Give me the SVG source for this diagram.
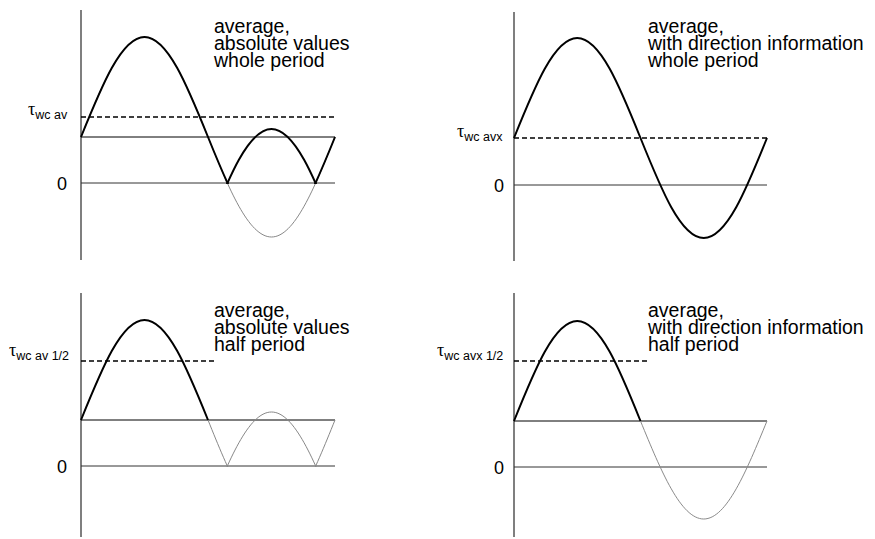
<svg xmlns="http://www.w3.org/2000/svg" xmlns:xlink="http://www.w3.org/1999/xlink" width="875" height="539" viewBox="0 0 875 539">
<style>
.ax{stroke:#555;stroke-width:1.5;fill:none}
.ln{stroke:#000;stroke-width:1;fill:none}
.zl{stroke:#333;stroke-width:1;fill:none}
.dash{stroke:#000;stroke-width:1.5;stroke-dasharray:5,3;fill:none}
.thick{stroke:#000;stroke-width:2;fill:none}
.thin{stroke:#888;stroke-width:1;fill:none}
.lbl{font-family:"Liberation Sans",Arial,sans-serif;font-size:19.5px;fill:#000}
.zero{font-family:"Liberation Sans",Arial,sans-serif;font-size:18px;fill:#000}
.tau{font-family:"Liberation Serif","Times New Roman",serif;font-size:18px;fill:#000}
.sub{font-family:"Liberation Sans",Arial,sans-serif;font-size:12.5px}
</style>
<defs>
<path id="sine" d="M0,0 C20.71,-51.23 40.52,-100 63.5,-100 C86.48,-100 106.29,-51.23 127,0 C147.71,51.23 167.52,100 190.5,100 C213.48,100 233.29,51.23 254,0"/>
<path id="half" d="M0,0 C20.71,-51.23 40.52,-100 63.5,-100 C86.48,-100 106.29,-51.23 127,0"/>
<clipPath id="c1"><rect x="0" y="0" width="875" height="184"/></clipPath>
<clipPath id="c3"><rect x="208" y="280" width="200" height="187"/></clipPath>
<clipPath id="c4"><rect x="640" y="280" width="200" height="259"/></clipPath>
</defs>

<g id="panel1">
<line class="ax" x1="81" y1="10" x2="81" y2="260"/>
<line class="zl" x1="81" y1="183" x2="335" y2="183"/>
<line class="ln" x1="81" y1="137" x2="335" y2="137"/>
<line class="dash" x1="81" y1="117" x2="335" y2="117"/>
<use xlink:href="#sine" class="thin" transform="translate(81,137)"/>
<g clip-path="url(#c1)">
<use xlink:href="#sine" class="thick" transform="translate(81,137)"/>
<use xlink:href="#sine" class="thick" transform="translate(81,229) scale(1,-1)"/>
</g>
<text class="zero" x="57" y="190">0</text>
<text class="tau" x="28" y="115">τ<tspan class="sub" dy="4">wc av</tspan></text>
<text class="lbl"><tspan x="214" y="33">average,</tspan><tspan x="214" y="50">absolute values</tspan><tspan x="214" y="67">whole period</tspan></text>
</g>

<g id="panel2">
<line class="ax" x1="514" y1="12" x2="514" y2="261"/>
<line class="zl" x1="514" y1="185" x2="767" y2="185"/>
<line class="dash" x1="514" y1="138" x2="767" y2="138"/>
<use xlink:href="#sine" class="thick" transform="translate(514,138) scale(0.996,1)"/>
<text class="zero" x="494" y="192">0</text>
<text class="tau" x="457" y="137">τ<tspan class="sub" dy="4">wc avx</tspan></text>
<text class="lbl"><tspan x="648" y="33">average,</tspan><tspan x="648" y="50">with direction information</tspan><tspan x="648" y="67">whole period</tspan></text>
</g>

<g id="panel3">
<line class="ax" x1="81" y1="293" x2="81" y2="537"/>
<line class="zl" x1="81" y1="466" x2="335" y2="466"/>
<line class="ln" x1="81" y1="420" x2="335" y2="420"/>
<line class="dash" x1="81" y1="361" x2="214" y2="361"/>
<g clip-path="url(#c3)">
<use xlink:href="#sine" class="thin" transform="translate(81,420)"/>
<use xlink:href="#sine" class="thin" transform="translate(81,512) scale(1,-1)"/>
</g>
<use xlink:href="#half" class="thick" transform="translate(81,420)"/>
<text class="zero" x="57" y="473">0</text>
<text class="tau" x="9" y="356">τ<tspan class="sub" dy="4">wc av 1/2</tspan></text>
<text class="lbl"><tspan x="214" y="317">average,</tspan><tspan x="214" y="334">absolute values</tspan><tspan x="214" y="351">half period</tspan></text>
</g>

<g id="panel4">
<line class="ax" x1="514" y1="293" x2="514" y2="537"/>
<line class="zl" x1="514" y1="467" x2="767" y2="467"/>
<line class="ln" x1="514" y1="421" x2="767" y2="421"/>
<line class="dash" x1="514" y1="361" x2="648" y2="361"/>
<g clip-path="url(#c4)">
<use xlink:href="#sine" class="thin" transform="translate(514,421) scale(0.996,0.98)"/>
</g>
<use xlink:href="#half" class="thick" transform="translate(514,421) scale(0.996,1)"/>
<text class="zero" x="494" y="474">0</text>
<text class="tau" x="437" y="356">τ<tspan class="sub" dy="4">wc avx 1/2</tspan></text>
<text class="lbl"><tspan x="648" y="317">average,</tspan><tspan x="648" y="334">with direction information</tspan><tspan x="648" y="351">half period</tspan></text>
</g>
</svg>
